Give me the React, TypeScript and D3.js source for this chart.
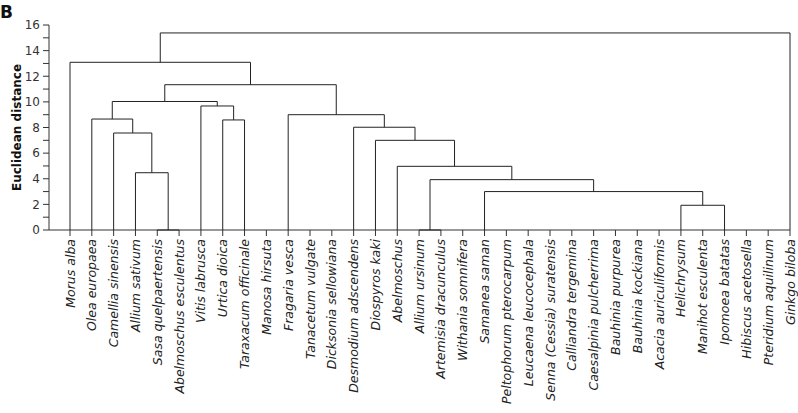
import React from "react";
import * as d3 from "d3";

// Leaves (in display order)
const leafNames = [
  "Morus alba", "Olea europaea", "Camellia sinensis", "Allium sativum",
  "Sasa quelpaertensis", "Abelmoschus esculentus", "Vitis labrusca", "Urtica dioica",
  "Taraxacum officinale", "Manosa hirsuta", "Fragaria vesca", "Tanacetum vulgate",
  "Dicksonia sellowiana", "Desmodium adscendens", "Diospyros kaki", "Abelmoschus",
  "Allium ursinum", "Artemisia dracunculus", "Withania somnifera", "Samanea saman",
  "Peltophorum pterocarpum", "Leucaena leucocephala", "Senna (Cessia) suratensis",
  "Calliandra tergemina", "Caesalpinia pulcherrima", "Bauhinia purpurea",
  "Bauhinia kockiana", "Acacia auriculiformis", "Helichrysum", "Manihot esculenta",
  "Ipomoea batatas", "Hibiscus acetosella", "Pteridium aquilinum", "Ginkgo biloba",
];

// Linkage rows: merge i joins mergeLeft[i] and mergeRight[i] at mergeHeight[i]
// references "m<k>" point to earlier merges
const mergeLeft = [
  "Sasa quelpaertensis", "Allium sativum", "Camellia sinensis", "Olea europaea",
  "Urtica dioica", "Vitis labrusca", "m3", "Allium ursinum",
  "Helichrysum", "Samanea saman", "m7", "Abelmoschus",
  "Diospyros kaki", "Desmodium adscendens", "Fragaria vesca", "m6",
  "Morus alba", "m16",
];
const mergeRight = [
  "Abelmoschus esculentus", "m0", "m1", "m2",
  "Taraxacum officinale", "m4", "m5", "Artemisia dracunculus",
  "Ipomoea batatas", "m8", "m9", "m10",
  "m11", "m12", "m13", "m14",
  "m15", "Ginkgo biloba",
];
const mergeHeight = [
  0, 4.47, 7.57, 8.66,
  8.59, 9.68, 10.03, 0,
  1.93, 3.0, 3.93, 4.97,
  7.0, 8.02, 9.0, 11.34,
  13.09, 15.38,
];

const yTicks = d3.range(0, 17, 1);

const W = 798;
const H = 413;
const margin = { left: 49, right: 8, top: 25, bottom: 183 };

export default function App() {
  const x = d3.scalePoint<string>().domain(leafNames).range([70, 790]);
  const y = d3.scaleLinear().domain([0, 16]).range([H - margin.bottom, margin.top]);

  const pos: Record<string, { x: number; h: number }> = {};
  leafNames.forEach((n) => (pos[n] = { x: x(n)!, h: 0 }));
  const segs: { x1: number; y1: number; x2: number; y2: number }[] = [];
  mergeHeight.forEach((h, i) => {
    const a = pos[mergeLeft[i]];
    const b = pos[mergeRight[i]];
    const yy = y(h);
    segs.push({ x1: a.x, y1: y(a.h), x2: a.x, y2: yy });
    segs.push({ x1: b.x, y1: y(b.h), x2: b.x, y2: yy });
    segs.push({ x1: a.x, y1: yy, x2: b.x, y2: yy });
    pos["m" + i] = { x: (a.x + b.x) / 2, h };
  });

  const y0 = y(0);
  const font = "'DejaVu Sans', sans-serif";

  return (
    <svg width={W} height={H} style={{ position: "absolute", left: 0, top: 0 }}>
      <text x={0} y={18} fontFamily={font} fontWeight="bold" fontSize={17} fill="#111">B</text>

      {/* y axis */}
      <line x1={margin.left} x2={margin.left} y1={y(16)} y2={y0} stroke="#333" strokeWidth={1} />
      {yTicks.map((t) => (
        <g key={t}>
          <line x1={margin.left - 6} x2={margin.left} y1={y(t)} y2={y(t)} stroke="#333" strokeWidth={1} />
          {t % 2 === 0 && (
            <text x={margin.left - 9} y={y(t)} dy="0.36em" textAnchor="end" fontFamily={font} fontSize={12} fill="#333">
              {t}
            </text>
          )}
        </g>
      ))}
      <text
        transform={`translate(21, ${(y(16) + y0) / 2}) rotate(-90)`}
        textAnchor="middle"
        fontFamily={font}
        fontWeight="bold"
        fontSize={12}
        fill="#111"
      >
        Euclidean distance
      </text>

      {/* x axis */}
      <line x1={margin.left} x2={790} y1={y0} y2={y0} stroke="#333" strokeWidth={1} />
      {leafNames.map((n) => (
        <g key={n}>
          <line x1={x(n)} x2={x(n)} y1={y0} y2={y0 + 6} stroke="#333" strokeWidth={1} />
          <text
            transform={`translate(${x(n)}, ${y0 + 9}) rotate(-90)`}
            textAnchor="end"
            dy="0.36em"
            fontFamily={font}
            fontStyle="italic"
            fontSize={12.5}
            fill="#222"
          >
            {n}
          </text>
        </g>
      ))}

      {/* dendrogram */}
      {segs.map((s, i) => (
        <line key={i} x1={s.x1} y1={s.y1} x2={s.x2} y2={s.y2} stroke="#222" strokeWidth={1} />
      ))}
    </svg>
  );
}
